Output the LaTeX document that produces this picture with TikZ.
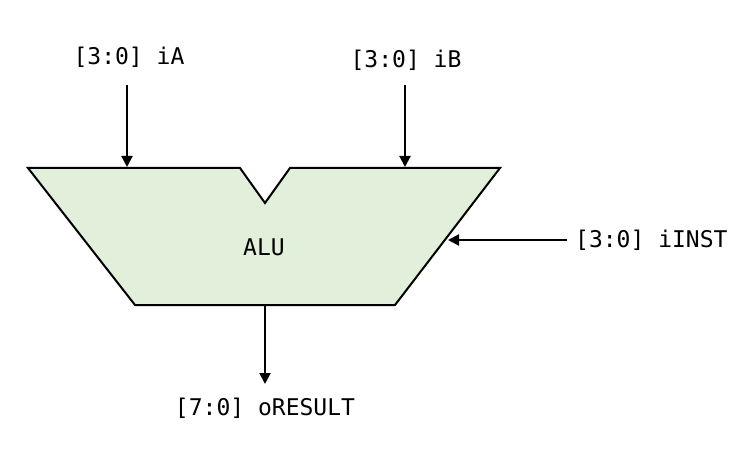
\documentclass[tikz,border=0pt]{standalone}
\usepackage{fontspec}
\setmonofont{DejaVu Sans Mono}
\usetikzlibrary{arrows.meta}
\definecolor{alufill}{HTML}{E2EFDA}
\tikzset{
  lbl/.style={font=\ttfamily\fontsize{23}{26}\selectfont, inner sep=0pt},
  sig/.style={line width=2pt, -{Triangle[length=11pt,width=11pt]}},
  alubody/.style={fill=alufill, draw=black, line width=2pt, line join=miter}
}
\begin{document}
\begin{tikzpicture}[x=1pt,y=-1pt]
\useasboundingbox (0,0) rectangle (736,449);
% ALU vertices
\coordinate (tl) at (28,168);
\coordinate (nl) at (240,168);
\coordinate (nb) at (265,203);
\coordinate (nr) at (290,168);
\coordinate (tr) at (500,168);
\coordinate (br) at (395,305);
\coordinate (bl) at (135,305);
\draw[alubody] (tl) -- (nl) -- (nb) -- (nr) -- (tr) -- (br) -- (bl) -- cycle;
\node[lbl] (alu) at (264,247) {ALU};
% ports
\coordinate (pa) at (127,167);
\coordinate (pb) at (405,167);
\coordinate (pi) at (448,240);
\coordinate (po) at (265,306);
\coordinate (oend) at (265,384);
\coordinate (sa) at (127,85);
\coordinate (sb) at (405,85);
\coordinate (si) at (567,240);
\node[lbl] (ia) at (129,57) {[3:0] iA};
\node[lbl] (ib) at (406,60) {[3:0] iB};
\node[lbl, anchor=west] (iinst) at (575,240) {[3:0] iINST};
\node[lbl] (ores) at (265,408) {[7:0] oRESULT};
\draw[sig] (sa) -- (pa);
\draw[sig] (sb) -- (pb);
\draw[sig] (si) -- (pi);
\draw[sig] (po) -- (oend);
\end{tikzpicture}
\end{document}
